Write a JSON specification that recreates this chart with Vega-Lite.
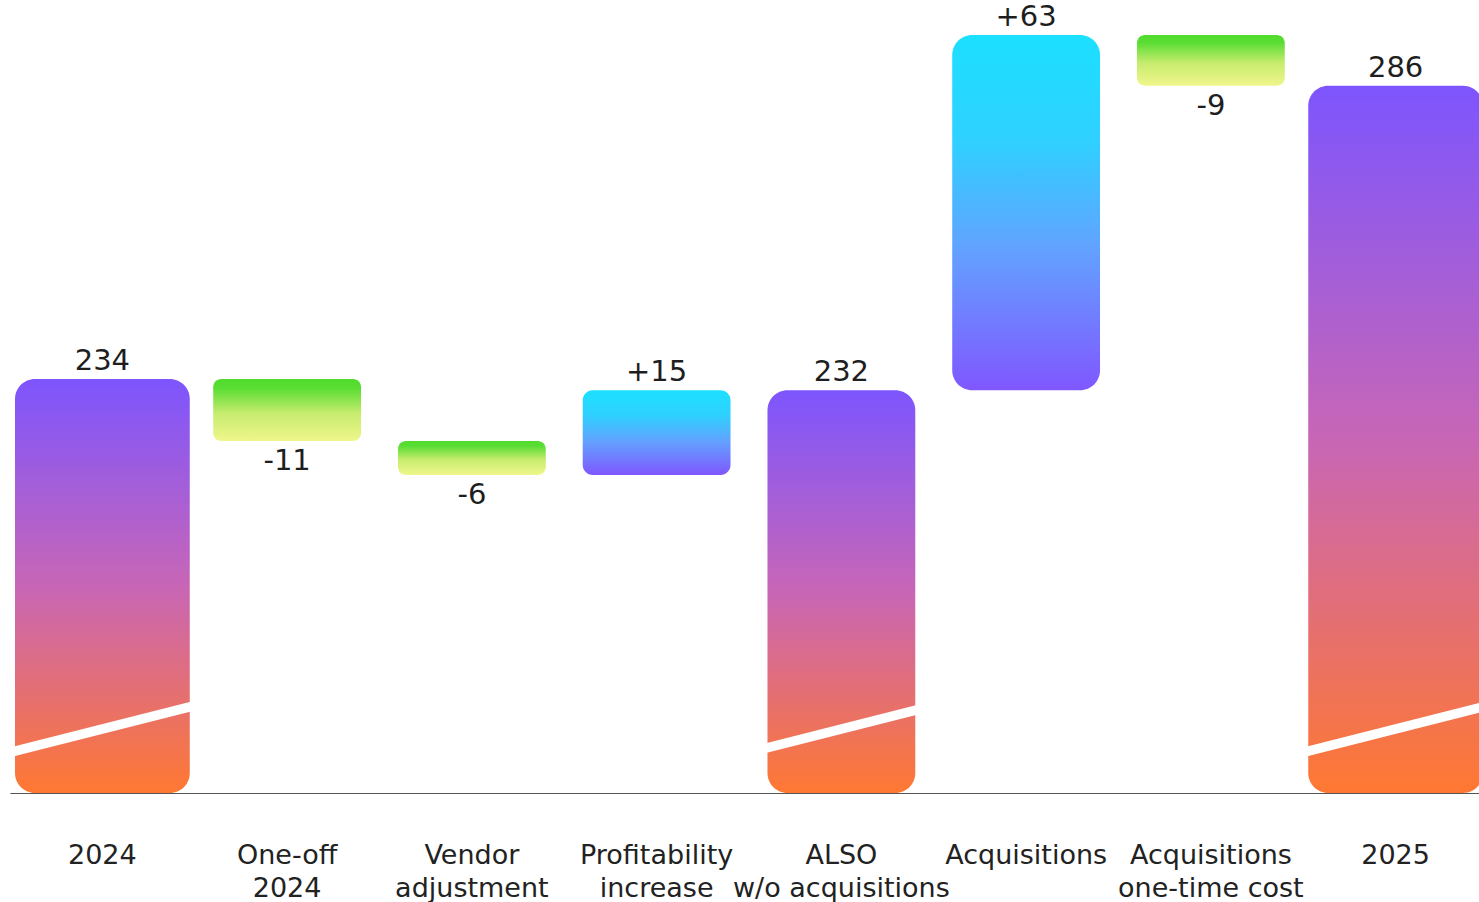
{
  "$schema": "https://vega.github.io/schema/vega-lite/v6.json",
  "background": "white",
  "autosize": {"type": "none"},
  "padding": {"left": 10, "top": 0, "right": 0, "bottom": 109},
  "width": 1469,
  "height": 793,
  "config": {"view": {"stroke": null}, "font": "DejaVu Sans"},
  "data": {
    "values": [
      {"step": "2024", "amount": 234, "kind": "start"},
      {"step": "One-off\n2024", "amount": -11, "kind": "delta"},
      {"step": "Vendor\nadjustment", "amount": -6, "kind": "delta"},
      {"step": "Profitability\nincrease", "amount": 15, "kind": "delta"},
      {"step": "ALSO\nw/o acquisitions", "amount": 232, "kind": "subtotal"},
      {"step": "Acquisitions", "amount": 63, "kind": "delta"},
      {"step": "Acquisitions\none-time cost", "amount": -9, "kind": "delta"},
      {"step": "2025", "amount": 286, "kind": "end"}
    ]
  },
  "transform": [
    {"window": [{"op": "row_number", "as": "idx"}]},
    {"calculate": "datum.kind == 'subtotal' || datum.kind == 'end' ? 0 : datum.amount", "as": "inc"},
    {"window": [{"op": "sum", "field": "inc", "as": "level"}], "sort": [{"field": "idx"}], "frame": [null, 0]},
    {"calculate": "datum.level - datum.inc", "as": "prev"},
    {"calculate": "datum.kind == 'delta' ? datum.level : datum.amount", "as": "tip"},
    {"calculate": "datum.kind == 'delta' && datum.amount > 0 ? '+' + datum.amount : '' + datum.amount", "as": "label"}
  ],
  "encoding": {
    "x": {
      "field": "step",
      "type": "nominal",
      "sort": {"field": "idx", "op": "min"},
      "scale": {"range": [0, 1478], "paddingInner": 0, "paddingOuter": 0},
      "axis": {
        "title": null,
        "orient": "bottom",
        "labelAngle": 0,
        "labelExpr": "split(datum.label, '\\n')",
        "labelFont": "DejaVu Sans",
        "labelFontSize": 27,
        "labelColor": "#222222",
        "labelLineHeight": 33,
        "labelPadding": 49,
        "labelLimit": 0,
        "labelOverlap": false,
        "labelBound": false,
        "ticks": false,
        "tickSize": 0,
        "domainColor": "#555555",
        "domainWidth": 1.2,
        "grid": false
      }
    }
  },
  "layer": [
    {
      "transform": [{"filter": "datum.kind == 'start' || datum.kind == 'end'"}],
      "mark": {
        "type": "bar",
        "width": {"band": 0.946},
        "cornerRadius": 20,
        "color": {
          "gradient": "linear", "x1": 0, "y1": 0, "x2": 0, "y2": 1,
          "stops": [
            {"offset": 0, "color": "#7d55fe"},
            {"offset": 0.5, "color": "#c866b6"},
            {"offset": 1, "color": "#ff7832"}
          ]
        }
      },
      "encoding": {
        "y": {"field": "amount", "type": "quantitative", "scale": {"domain": [160.6, 301.2], "nice": false, "zero": false}, "axis": null},
        "y2": {"datum": 160.6}
      }
    },
    {
      "transform": [{"filter": "datum.kind == 'subtotal'"}],
      "mark": {
        "type": "bar",
        "width": {"band": 0.8},
        "cornerRadius": 20,
        "color": {
          "gradient": "linear", "x1": 0, "y1": 0, "x2": 0, "y2": 1,
          "stops": [
            {"offset": 0, "color": "#7d55fe"},
            {"offset": 0.5, "color": "#c866b6"},
            {"offset": 1, "color": "#ff7832"}
          ]
        }
      },
      "encoding": {
        "y": {"field": "amount", "type": "quantitative"},
        "y2": {"datum": 160.6}
      }
    },
    {
      "transform": [{"filter": "datum.kind == 'delta' && datum.amount > 0"}],
      "mark": {
        "type": "bar",
        "width": {"band": 0.8},
        "cornerRadius": {"expr": "abs(datum.amount) > 30 ? 20 : 10"},
        "color": {
          "gradient": "linear", "x1": 0, "y1": 0, "x2": 0, "y2": 1,
          "stops": [
            {"offset": 0, "color": "#1ce0ff"},
            {"offset": 0.3, "color": "#2fd0ff"},
            {"offset": 0.6, "color": "#62a2ff"},
            {"offset": 1, "color": "#8057ff"}
          ]
        }
      },
      "encoding": {
        "y": {"field": "level", "type": "quantitative"},
        "y2": {"field": "prev"}
      }
    },
    {
      "transform": [{"filter": "datum.kind == 'delta' && datum.amount < 0"}],
      "mark": {
        "type": "bar",
        "width": {"band": 0.8},
        "cornerRadius": 8,
        "color": {
          "gradient": "linear", "x1": 0, "y1": 0, "x2": 0, "y2": 1,
          "stops": [
            {"offset": 0, "color": "#4fdc2b"},
            {"offset": 0.15, "color": "#5add33"},
            {"offset": 0.55, "color": "#c6ec6e"},
            {"offset": 1, "color": "#f0f68c"}
          ]
        }
      },
      "encoding": {
        "y": {"field": "prev", "type": "quantitative"},
        "y2": {"field": "level"}
      }
    },
    {
      "transform": [{"filter": "datum.kind != 'delta'"}],
      "mark": {"type": "rule", "color": "white", "strokeWidth": 9.5},
      "encoding": {
        "x": {"field": "step", "type": "nominal", "sort": {"field": "idx", "op": "min"}, "bandPosition": 0},
        "x2": {"field": "step", "bandPosition": 1},
        "y": {"datum": 167.8, "type": "quantitative"},
        "y2": {"datum": 176.1}
      }
    },
    {
      "transform": [{"filter": "!(datum.kind == 'delta' && datum.amount < 0)"}],
      "mark": {"type": "text", "font": "DejaVu Sans", "fontSize": 29, "color": "#1e1e1e", "baseline": "alphabetic", "dy": -9},
      "encoding": {
        "y": {"field": "tip", "type": "quantitative"},
        "text": {"field": "label"}
      }
    },
    {
      "transform": [{"filter": "datum.kind == 'delta' && datum.amount < 0"}],
      "mark": {"type": "text", "font": "DejaVu Sans", "fontSize": 29, "color": "#1e1e1e", "baseline": "alphabetic", "dy": 29},
      "encoding": {
        "y": {"field": "tip", "type": "quantitative"},
        "text": {"field": "label"}
      }
    }
  ]
}
